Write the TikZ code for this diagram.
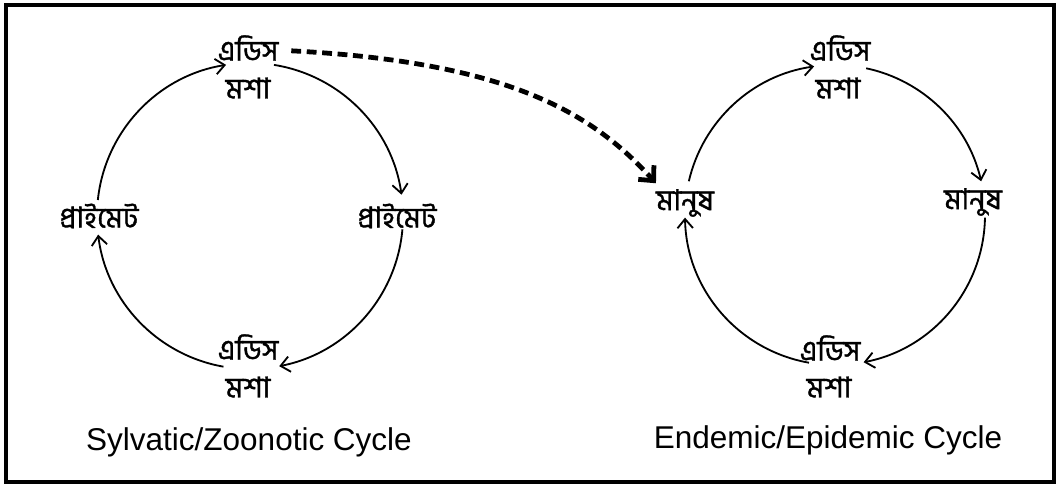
\documentclass[tikz,border=0pt]{standalone}
\usepackage{fontspec}
\setmainfont{Liberation Sans}
\newfontfamily\bangla[Script=Bengali,FakeBold=1.2]{Hind Siliguri}
\usepackage{tikz}
\usetikzlibrary{arrows.meta}

\begin{document}
\begin{tikzpicture}[x=0.025cm,y=0.025cm,
  bn/.style={font=\bangla\fontsize{20.5}{22}\selectfont,inner sep=0pt},
  cyclabel/.style={font=\fontsize{22.4}{26}\selectfont,inner sep=0pt},
  cyc/.style={line width=1.3pt,-{Straight Barb[length=6.5pt,width=11pt]}},
  jump/.style={line width=3.4pt,dash pattern=on 7pt off 4pt,-{Straight Barb[length=8pt,width=15pt]}}]
  \useasboundingbox (0,0) rectangle (1060,486);
  \draw[line width=3pt] (6,4) rectangle (1054,481);
  % sylvatic cycle
  \coordinate (cL) at (250,270);
  \node[bn] (topLa) at (248,438) {এডিস};
  \node[bn] (topLb) at (248,398) {মশা};
  \node[bn] (rigL) at (397,270) {প্রাইমেট};
  \node[bn] (botLa) at (248,139) {এডিস};
  \node[bn] (botLb) at (248,99) {মশা};
  \node[bn] (lefL) at (99,270) {প্রাইমেট};
  \node[cyclabel] (capL) at (249,44) {Sylvatic/Zoonotic Cycle};
  \foreach \a/\b in {81/8,-5/-79,-100/-173,174/99}
     {\draw[cyc] (cL) ++(\a:153) arc (\a:\b:153);}
  % endemic cycle
  \coordinate (cR) at (835,271);
  \node[bn] (topRa) at (840,438) {এডিস};
  \node[bn] (topRb) at (838,398) {মশা};
  \node[bn] (rigR) at (973,284) {মানুষ};
  \node[bn] (botRa) at (830,138) {এডিস};
  \node[bn] (botRb) at (829,99) {মশা};
  \node[bn] (lefR) at (685,283) {মানুষ};
  \node[cyclabel] (capR) at (828,46) {Endemic/Epidemic Cycle};
  \foreach \a/\b in {78/13,-1/-79,-100/-179,167/98}
     {\draw[cyc] (cR) ++(\a:150) arc (\a:\b:150);}
  % spill-over
  \draw[jump] ([xshift=9pt,yshift=-2pt]topLa.east) to[out=-3,in=132,out looseness=1.4,in looseness=0.65] ([yshift=4pt]lefR.north west);
\end{tikzpicture}
\end{document}
